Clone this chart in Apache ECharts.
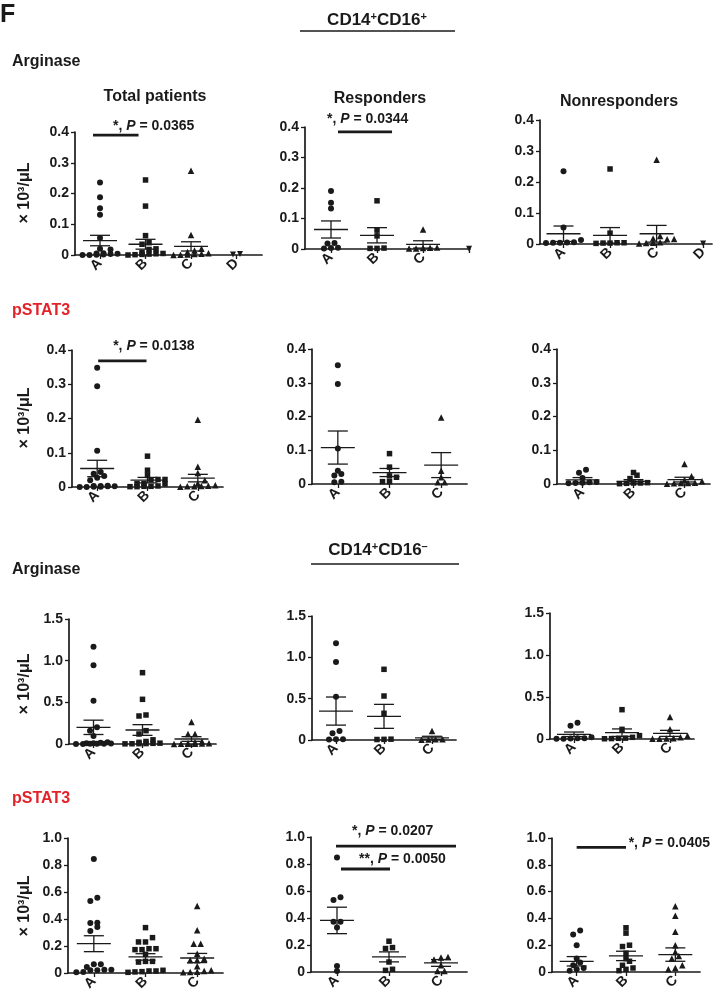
<!DOCTYPE html>
<html><head><meta charset="utf-8">
<script src="https://cdn.jsdelivr.net/npm/echarts@6/dist/echarts.min.js"></script>
<style>html,body{margin:0;padding:0;background:#fff}#c{width:726px;height:997px}</style>
</head><body><div id="c"></div>
<script>
const FONT = "'Liberation Sans', Arial, Helvetica, sans-serif";
const INK = '#1a1a1a';
const RED = '#e2232a';

const groupNames = ['A', 'B', 'C', 'D'];

// ---- Row 1: CD14+CD16+ Arginase ----
const argPosTotalA = [0.236, 0.188, 0.152, 0.131, 0.055, 0.02, 0.018, 0.006, 0.005, 0.004, 0.003, 0.002, 0.001, 0.0, 0.0];
const argPosTotalB = [0.244, 0.159, 0.063, 0.04, 0.035, 0.02, 0.018, 0.008, 0.005, 0.004, 0.003, 0.002, 0.001, 0.0];
const argPosTotalC = [0.274, 0.065, 0.02, 0.015, 0.01, 0.006, 0.004, 0.003, 0.002, 0.001, 0.0];
const argPosTotalD = [0.003, 0.002];
const argPosTotalMean = [0.047, 0.035, 0.028, null];
const argPosTotalSem = [0.017, 0.016, 0.015, null];

const argPosRespA = [0.19, 0.152, 0.133, 0.02, 0.018, 0.004, 0.003, 0.002];
const argPosRespB = [0.158, 0.062, 0.043, 0.003, 0.002, 0.002];
const argPosRespC = [0.064, 0.005, 0.004, 0.003, 0.002, 0.002];
const argPosRespD = [0.001];
const argPosRespMean = [0.064, 0.045, 0.015, null];
const argPosRespSem = [0.028, 0.025, 0.012, null];

const argPosNonA = [0.235, 0.053, 0.013, 0.006, 0.005, 0.004, 0.004, 0.003];
const argPosNonB = [0.242, 0.035, 0.004, 0.004, 0.003, 0.003, 0.002];
const argPosNonC = [0.272, 0.026, 0.018, 0.016, 0.015, 0.006, 0.004, 0.003, 0.002];
const argPosNonD = [0.002];
const argPosNonMean = [0.033, 0.028, 0.033, null];
const argPosNonSem = [0.025, 0.025, 0.027, null];

// ---- Row 2: CD14+CD16+ pSTAT3 ----
const pstPosTotalA = [0.348, 0.294, 0.106, 0.044, 0.039, 0.032, 0.027, 0.02, 0.004, 0.003, 0.003, 0.002, 0.002, 0.001, 0.001, 0.0, 0.0];
const pstPosTotalB = [0.09, 0.049, 0.034, 0.022, 0.022, 0.021, 0.01, 0.01, 0.009, 0.003, 0.002, 0.002, 0.001, 0.001];
const pstPosTotalC = [0.196, 0.059, 0.041, 0.02, 0.01, 0.005, 0.004, 0.003, 0.002, 0.002, 0.001];
const pstPosTotalMean = [0.054, 0.02, 0.026];
const pstPosTotalSem = [0.024, 0.008, 0.011];

const pstPosRespA = [0.352, 0.296, 0.105, 0.039, 0.03, 0.025, 0.007, 0.005];
const pstPosRespB = [0.09, 0.05, 0.024, 0.02, 0.007, 0.007];
const pstPosRespC = [0.197, 0.039, 0.02, 0.005, 0.005];
const pstPosRespMean = [0.108, 0.034, 0.056];
const pstPosRespSem = [0.049, 0.012, 0.037];

const pstPosNonA = [0.042, 0.033, 0.018, 0.006, 0.005, 0.004, 0.003, 0.002];
const pstPosNonB = [0.034, 0.026, 0.016, 0.004, 0.003, 0.003, 0.002, 0.001];
const pstPosNonC = [0.059, 0.023, 0.012, 0.008, 0.004, 0.003, 0.003, 0.002, 0.001];
const pstPosNonMean = [0.012, 0.008, 0.013];
const pstPosNonSem = [0.007, 0.005, 0.007];

// ---- Row 3: CD14+CD16- Arginase ----
const argNegTotalA = [1.168, 0.944, 0.52, 0.2, 0.16, 0.096, 0.02, 0.015, 0.01, 0.008, 0.005, 0.004, 0.003, 0.002, 0.001, 0.0];
const argNegTotalB = [0.856, 0.536, 0.348, 0.336, 0.16, 0.12, 0.05, 0.03, 0.02, 0.01, 0.008, 0.005, 0.004, 0.003, 0.002];
const argNegTotalC = [0.264, 0.12, 0.12, 0.03, 0.02, 0.01, 0.008, 0.005, 0.004, 0.003, 0.002, 0.001];
const argNegTotalMean = [0.2, 0.168, 0.06];
const argNegTotalSem = [0.086, 0.064, 0.028];

const argNegRespA = [1.169, 0.944, 0.524, 0.109, 0.081, 0.01, 0.008, 0.006];
const argNegRespB = [0.855, 0.532, 0.323, 0.01, 0.008, 0.006];
const argNegRespC = [0.109, 0.01, 0.008, 0.006, 0.004];
const argNegRespMean = [0.35, 0.286, 0.025];
const argNegRespSem = [0.17, 0.145, 0.02];

const argNegNonA = [0.194, 0.159, 0.02, 0.01, 0.008, 0.005, 0.004, 0.003];
const argNegNonB = [0.349, 0.115, 0.04, 0.02, 0.01, 0.008, 0.005, 0.003];
const argNegNonC = [0.262, 0.115, 0.04, 0.02, 0.01, 0.006, 0.004, 0.003];
const argNegNonMean = [0.056, 0.075, 0.067];
const argNegNonSem = [0.027, 0.045, 0.036];

// ---- Row 4: CD14+CD16- pSTAT3 ----
const pstNegTotalA = [0.844, 0.558, 0.533, 0.373, 0.37, 0.341, 0.311, 0.064, 0.064, 0.044, 0.025, 0.025, 0.02, 0.02, 0.007, 0.005];
const pstNegTotalB = [0.336, 0.262, 0.23, 0.23, 0.18, 0.18, 0.173, 0.173, 0.138, 0.086, 0.086, 0.081, 0.02, 0.015, 0.015, 0.01, 0.008, 0.005];
const pstNegTotalC = [0.496, 0.316, 0.217, 0.217, 0.143, 0.106, 0.094, 0.094, 0.05, 0.02, 0.015, 0.01, 0.008, 0.005];
const pstNegTotalMean = [0.217, 0.119, 0.111];
const pstNegTotalSem = [0.059, 0.024, 0.034];

const pstNegRespA = [0.849, 0.553, 0.533, 0.372, 0.372, 0.33, 0.045, 0.007];
const pstNegRespB = [0.228, 0.181, 0.174, 0.074, 0.02, 0.012];
const pstNegRespC = [0.112, 0.107, 0.092, 0.05, 0.007, 0.007];
const pstNegRespMean = [0.382, 0.112, 0.067];
const pstNegRespSem = [0.098, 0.037, 0.025];

const pstNegNonA = [0.31, 0.28, 0.2, 0.1, 0.07, 0.05, 0.03, 0.02, 0.01];
const pstNegNonB = [0.33, 0.29, 0.2, 0.19, 0.14, 0.1, 0.08, 0.05, 0.03, 0.02, 0.01];
const pstNegNonC = [0.49, 0.42, 0.3, 0.2, 0.15, 0.12, 0.1, 0.05, 0.03, 0.02];
const pstNegNonMean = [0.08, 0.12, 0.13];
const pstNegNonSem = [0.035, 0.035, 0.05];

// y-axis tick settings per row
const yMaxRow = [0.4, 0.4, 1.5, 1.0];
const yStepRow = [0.1, 0.1, 0.5, 0.2];

// ---- panel layout (pixels) ----
const layouts = [
  {x0: 75, x1: 262, yTop: 132, yBot: 255, xmin: 0.45, xmax: 4.56},
  {x0: 305, x1: 470, yTop: 127, yBot: 249, xmin: 0.435, xmax: 4.02},
  {x0: 540, x1: 712, yTop: 120, yBot: 244, xmin: 0.495, xmax: 4.19},
  {x0: 72, x1: 223, yTop: 350, yBot: 487, xmin: 0.5, xmax: 3.5},
  {x0: 312, x1: 467, yTop: 349, yBot: 484, xmin: 0.5, xmax: 3.5},
  {x0: 557, x1: 710, yTop: 349, yBot: 484, xmin: 0.5, xmax: 3.5},
  {x0: 69, x1: 216, yTop: 619, yBot: 744, xmin: 0.5, xmax: 3.5},
  {x0: 312, x1: 456, yTop: 616, yBot: 740, xmin: 0.5, xmax: 3.5},
  {x0: 550, x1: 694, yTop: 613, yBot: 739, xmin: 0.5, xmax: 3.5},
  {x0: 68, x1: 223, yTop: 838, yBot: 973, xmin: 0.5, xmax: 3.5},
  {x0: 311, x1: 467, yTop: 837, yBot: 972, xmin: 0.5, xmax: 3.5},
  {x0: 552, x1: 700, yTop: 838, yBot: 972, xmin: 0.5, xmax: 3.5}
];

const panels = [
  {row: 0, groups: [argPosTotalA, argPosTotalB, argPosTotalC, argPosTotalD], mean: argPosTotalMean, sem: argPosTotalSem, labels: ['A', 'B', 'C', 'D']},
  {row: 0, groups: [argPosRespA, argPosRespB, argPosRespC, argPosRespD], mean: argPosRespMean, sem: argPosRespSem, labels: ['A', 'B', 'C', '']},
  {row: 0, groups: [argPosNonA, argPosNonB, argPosNonC, argPosNonD], mean: argPosNonMean, sem: argPosNonSem, labels: ['A', 'B', 'C', 'D']},
  {row: 1, groups: [pstPosTotalA, pstPosTotalB, pstPosTotalC], mean: pstPosTotalMean, sem: pstPosTotalSem, labels: ['A', 'B', 'C']},
  {row: 1, groups: [pstPosRespA, pstPosRespB, pstPosRespC], mean: pstPosRespMean, sem: pstPosRespSem, labels: ['A', 'B', 'C']},
  {row: 1, groups: [pstPosNonA, pstPosNonB, pstPosNonC], mean: pstPosNonMean, sem: pstPosNonSem, labels: ['A', 'B', 'C']},
  {row: 2, groups: [argNegTotalA, argNegTotalB, argNegTotalC], mean: argNegTotalMean, sem: argNegTotalSem, labels: ['A', 'B', 'C']},
  {row: 2, groups: [argNegRespA, argNegRespB, argNegRespC], mean: argNegRespMean, sem: argNegRespSem, labels: ['A', 'B', 'C']},
  {row: 2, groups: [argNegNonA, argNegNonB, argNegNonC], mean: argNegNonMean, sem: argNegNonSem, labels: ['A', 'B', 'C']},
  {row: 3, groups: [pstNegTotalA, pstNegTotalB, pstNegTotalC], mean: pstNegTotalMean, sem: pstNegTotalSem, labels: ['A', 'B', 'C']},
  {row: 3, groups: [pstNegRespA, pstNegRespB, pstNegRespC], mean: pstNegRespMean, sem: pstNegRespSem, labels: ['A', 'B', 'C']},
  {row: 3, groups: [pstNegNonA, pstNegNonB, pstNegNonC], mean: pstNegNonMean, sem: pstNegNonSem, labels: ['A', 'B', 'C']}
];

// significance annotations: groups (1-based), bar height in data units, text
const sigs = [
  {panel: 0, g1: 1, g2: 2, y: 0.39, text: '*, {i|P} = 0.0365', dxL: -7, dxR: -7, tdx: 20, tdy: 9},
  {panel: 1, g1: 1, g2: 2, y: 0.384, text: '*, {i|P} = 0.0344', dxL: 7, dxR: 15, tdx: -11, tdy: 13},
  {panel: 3, g1: 1, g2: 2, y: 0.368, text: '*, {i|P} = 0.0138', dxL: 1, dxR: -1, tdx: 15, tdy: 15},
  {panel: 10, g1: 1, g2: 3, y: 0.933, text: '*, {i|P} = 0.0207', dxL: -1, dxR: 15, tdx: 16, tdy: 15},
  {panel: 10, g1: 1, g2: 2, y: 0.763, text: '**, {i|P} = 0.0050', dxL: 4, dxR: 1, tdx: 18, tdy: 10},
  {panel: 11, g1: 1, g2: 2, y: 0.93, text: '*, {i|P} = 0.0405', dxL: 0, dxR: 0, tdx: 52, tdy: 4}
];

const symbols = ['circle', 'rect', 'triangle', 'path://M0,0 L10,0 L5,9 Z'];
const symbolSizes = [6, 5.5, 6.5, 6];

function fmtY(v) { return v === 0 ? '0' : v.toFixed(1); }

const el = document.getElementById('c');
const chart = echarts.init(el, null, {renderer: 'canvas', width: 726, height: 997});

const grids = [], xAxes = [], yAxes = [];
panels.forEach((p, i) => {
  const L = layouts[i];
  grids.push({left: L.x0, top: L.yTop, width: L.x1 - L.x0, height: L.yBot - L.yTop, containLabel: false});
  const ticks = p.labels.map((_, k) => k + 1);
  xAxes.push({
    type: 'value', gridIndex: i, min: L.xmin, max: L.xmax,
    axisLine: {show: true, onZero: true, lineStyle: {color: INK, width: 1.7}},
    axisTick: {show: true, customValues: ticks, length: 4, lineStyle: {color: INK, width: 1.3}},
    axisLabel: {show: true, customValues: ticks.filter(t => p.labels[t - 1] !== ''), rotate: 45, margin: 6,
      formatter: v => p.labels[Math.round(v) - 1] || '',
      color: INK, fontFamily: FONT, fontWeight: 'bold', fontSize: 14},
    splitLine: {show: false}
  });
  yAxes.push({
    type: 'value', gridIndex: i, min: 0, max: yMaxRow[p.row], interval: yStepRow[p.row],
    axisLine: {show: true, lineStyle: {color: INK, width: 1.7}},
    axisTick: {show: true, length: 4, lineStyle: {color: INK, width: 1.3}},
    axisLabel: {formatter: fmtY, color: INK, fontFamily: FONT, fontWeight: 'bold', fontSize: 14, margin: 6},
    splitLine: {show: false}
  });
});

chart.setOption({animation: false, grid: grids, xAxis: xAxes, yAxis: yAxes, series: []});

// beeswarm-like row layout computed in pixel space through the axes' scales
const ROW_TOL = 4.5, SPACING = 7, MAX_ROW = 6;
function swarm(values, center, axisIdx) {
  const pxX = chart.convertToPixel({xAxisIndex: axisIdx}, 2) - chart.convertToPixel({xAxisIndex: axisIdx}, 1);
  const ys = values.map(v => chart.convertToPixel({yAxisIndex: axisIdx}, v));
  const order = values.map((_, i) => i).sort((a, b) => values[a] - values[b]);
  const rows = [];
  let row = [], shift = 0;
  order.forEach(i => {
    if (row.length && (Math.abs(ys[i] - ys[row[0]]) > ROW_TOL || row.length >= MAX_ROW)) {
      const forced = row.length >= MAX_ROW && Math.abs(ys[i] - ys[row[0]]) <= ROW_TOL;
      rows.push({idx: row, shift});
      shift = forced ? (shift ? 0 : SPACING / 2) : 0;
      row = [];
    }
    row.push(i);
  });
  if (row.length) rows.push({idx: row, shift});
  const out = new Array(values.length);
  rows.forEach(r => {
    const k = r.idx.length;
    r.idx.forEach((i, j) => { out[i] = center + ((j - (k - 1) / 2) * SPACING + r.shift) / pxX; });
  });
  return out;
}

function meanSemRender(params, api) {
  const x = api.value(0), m = api.value(1), s = api.value(2);
  const c = api.coord([x, m]), u = api.coord([x, m + s]), d = api.coord([x, m - s]);
  const st = {stroke: INK, lineWidth: 1.3};
  return {type: 'group', children: [
    {type: 'line', shape: {x1: c[0] - 17, y1: c[1], x2: c[0] + 17, y2: c[1]}, style: st},
    {type: 'line', shape: {x1: u[0], y1: u[1], x2: d[0], y2: d[1]}, style: st},
    {type: 'line', shape: {x1: u[0] - 10, y1: u[1], x2: u[0] + 10, y2: u[1]}, style: st},
    {type: 'line', shape: {x1: d[0] - 10, y1: d[1], x2: d[0] + 10, y2: d[1]}, style: st}
  ]};
}

const series = [];
panels.forEach((p, i) => {
  p.groups.forEach((vals, g) => {
    const xs = swarm(vals, g + 1, i);
    series.push({
      type: 'scatter', xAxisIndex: i, yAxisIndex: i,
      symbol: symbols[g], symbolSize: symbolSizes[g],
      itemStyle: {color: INK, opacity: 1},
      data: vals.map((v, k) => [xs[k], v]),
      silent: true, clip: false, z: 3
    });
  });
  const msData = [];
  p.mean.forEach((m, g) => { if (m !== null) msData.push([g + 1, m, p.sem[g]]); });
  series.push({type: 'custom', xAxisIndex: i, yAxisIndex: i, renderItem: meanSemRender, data: msData, clip: false, silent: true, z: 4});
});

sigs.forEach(s => {
  series.push({
    type: 'custom', xAxisIndex: s.panel, yAxisIndex: s.panel, clip: false, silent: true, z: 5,
    data: [[s.g1, s.g2, s.y]],
    renderItem: (params, api) => {
      const a = api.coord([api.value(0), api.value(2)]);
      const b = api.coord([api.value(1), api.value(2)]);
      const xL = a[0] + s.dxL, xR = b[0] + s.dxR;
      return {type: 'group', children: [
        {type: 'line', shape: {x1: xL, y1: a[1], x2: xR, y2: a[1]}, style: {stroke: INK, lineWidth: 2.8}},
        {type: 'text', x: xL + s.tdx, y: a[1] - s.tdy, style: {
          text: s.text, fill: INK, fontFamily: FONT, fontWeight: 'bold', fontSize: 14,
          align: 'left', textAlign: 'left', verticalAlign: 'middle', textVerticalAlign: 'middle',
          rich: {i: {fontStyle: 'italic', fontWeight: 'bold', fontSize: 14, fontFamily: FONT, fill: INK}}
        }}
      ]};
    }
  });
});

function txt(x, y, text, size, opts) {
  opts = opts || {};
  return {type: 'text', x: x, y: y, rotation: opts.rot || 0, silent: true, z: 10,
    style: Object.assign({text: text, fill: opts.color || INK, fontFamily: FONT, fontWeight: 'bold', fontSize: size,
      align: opts.align || 'left', textAlign: opts.align || 'left', verticalAlign: 'middle', textVerticalAlign: 'middle'}, opts.style || {})};
}

const supRich = {s: {fontSize: 11, fontWeight: 'bold', fontFamily: FONT, fill: INK, verticalAlign: 'top'},
                 n: {fontSize: 17, fontWeight: 'bold', fontFamily: FONT, fill: INK}};
const yLabel = '× 10³/μL';
const graphics = [
  txt(0, 15, 'F', 25),
  txt(377, 20, '{n|CD14}{s|+}{n|CD16}{s|+}', 17, {align: 'center', style: {rich: supRich}}),
  {type: 'line', shape: {x1: 300, y1: 31, x2: 455, y2: 31}, style: {stroke: INK, lineWidth: 1.5}, silent: true},
  txt(12, 62, 'Arginase', 16),
  txt(155, 97, 'Total patients', 16, {align: 'center'}),
  txt(380, 99, 'Responders', 16, {align: 'center'}),
  txt(619, 102, 'Nonresponders', 16, {align: 'center'}),
  txt(12, 311, 'pSTAT3', 16, {color: RED}),
  txt(378, 550, '{n|CD14}{s|+}{n|CD16}{s|–}', 17, {align: 'center', style: {rich: supRich}}),
  {type: 'line', shape: {x1: 311, y1: 564, x2: 459, y2: 564}, style: {stroke: INK, lineWidth: 1.5}, silent: true},
  txt(12, 570, 'Arginase', 16),
  txt(12, 799, 'pSTAT3', 16, {color: RED}),
  txt(25, 193, yLabel, 16, {align: 'center', rot: Math.PI / 2}),
  txt(25, 418, yLabel, 16, {align: 'center', rot: Math.PI / 2}),
  txt(25, 684, yLabel, 16, {align: 'center', rot: Math.PI / 2}),
  txt(25, 906, yLabel, 16, {align: 'center', rot: Math.PI / 2})
];

chart.setOption({series: series, graphic: {elements: graphics}});
</script>
</body></html>
